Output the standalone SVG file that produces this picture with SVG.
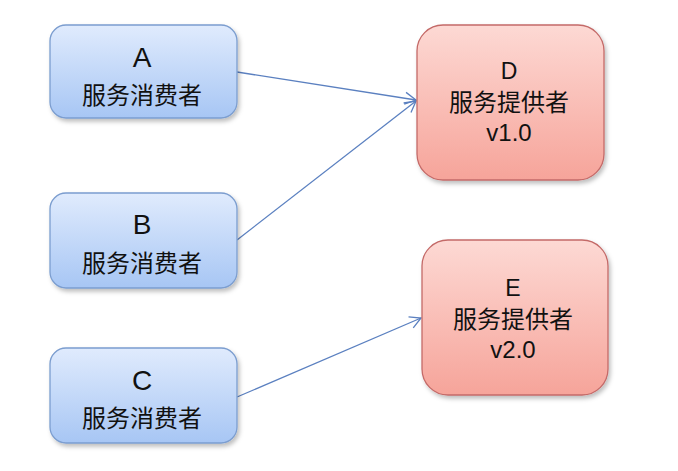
<svg xmlns="http://www.w3.org/2000/svg" width="678" height="471" viewBox="0 0 678 471">
<defs>
<linearGradient id="gb" x1="0" y1="0" x2="0" y2="1">
<stop offset="0" stop-color="#e0ebfd"/>
<stop offset="1" stop-color="#a7c6f4"/>
</linearGradient>
<linearGradient id="gr" x1="0" y1="0" x2="0" y2="1">
<stop offset="0" stop-color="#fdd9d4"/>
<stop offset="1" stop-color="#f6a49a"/>
</linearGradient>
<filter id="sh" x="-10%" y="-10%" width="130%" height="130%">
<feDropShadow dx="2" dy="3" stdDeviation="2" flood-color="#000" flood-opacity="0.25"/>
</filter>
<marker id="ar" markerWidth="14" markerHeight="14" refX="12" refY="7" orient="auto" markerUnits="userSpaceOnUse">
<path d="M1,1 L12,7 L1,13" fill="none" stroke="#5b80c0" stroke-width="1.3"/>
</marker>
</defs>
<style>
.b{fill:url(#gb);stroke:#7b9dcf;stroke-width:1.3;filter:url(#sh)}
.r{fill:url(#gr);stroke:#c46a68;stroke-width:1.3;filter:url(#sh)}
text{fill:#111;text-anchor:middle}
.t{font-family:"Liberation Sans",sans-serif;font-size:28px}
.s{font-family:"Noto Sans CJK SC",sans-serif;font-size:24px}
.d{font-family:"Liberation Sans",sans-serif;font-size:23px}
.v{font-family:"Liberation Sans",sans-serif;font-size:24px}
.c{stroke:#5b80c0;stroke-width:1.3;fill:none;marker-end:url(#ar)}
</style>
<rect width="678" height="471" fill="#fff"/>
<g id="connectors">
<line class="c" x1="237" y1="72" x2="416" y2="100"/>
<line class="c" x1="237" y1="240" x2="416" y2="101"/>
<line class="c" x1="237" y1="397" x2="421" y2="318"/>
</g>
<g id="A">
<rect class="b" x="50" y="25" width="187" height="93" rx="16"/>
<text class="t" x="142" y="67">A</text>
<text class="s" x="142" y="104">服务消费者</text>
</g>
<g id="B">
<rect class="b" x="50" y="193" width="187" height="95" rx="16"/>
<text class="t" x="142" y="234">B</text>
<text class="s" x="142" y="272">服务消费者</text>
</g>
<g id="C">
<rect class="b" x="50" y="348" width="187" height="95" rx="16"/>
<text class="t" x="142" y="390">C</text>
<text class="s" x="142" y="427">服务消费者</text>
</g>
<g id="D">
<rect class="r" x="417" y="25" width="187" height="155" rx="26"/>
<text class="d" x="509" y="79">D</text>
<text class="s" x="509" y="111">服务提供者</text>
<text class="v" x="509" y="141">v1.0</text>
</g>
<g id="E">
<rect class="r" x="422" y="240" width="186" height="155" rx="26"/>
<text class="d" x="513" y="296">E</text>
<text class="s" x="513" y="328">服务提供者</text>
<text class="v" x="513" y="358">v2.0</text>
</g>
</svg>
